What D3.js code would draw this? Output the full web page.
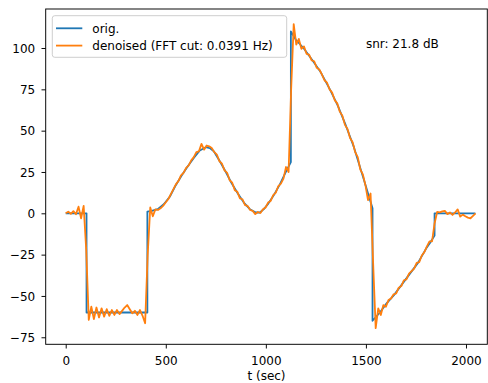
<!DOCTYPE html>
<html><head><meta charset="utf-8">
<script src="https://cdn.jsdelivr.net/npm/d3@7"></script>
<style>
html,body{margin:0;padding:0;background:#fff;}
svg{display:block;font-family:"DejaVu Sans",sans-serif;}
</style></head>
<body><svg id="c" width="488" height="383"></svg>
<script>
// ---- data ----
const xTicks = [0, 500, 1000, 1500, 2000];
const yTicks = [-75, -50, -25, 0, 25, 50, 75, 100];
const seriesNames = ["orig.", "denoised (FFT cut: 0.0391 Hz)"];
const snrLabel = "snr: 21.8 dB";
const xLabel = "t (sec)";

// original signal (breakpoints, t in sec)
const origT = [0, 104, 104, 408, 408, 430, 460, 490, 520, 550, 580, 610, 640, 670, 700, 720, 740, 770, 800, 830, 860, 890, 920, 950, 970, 990, 1010, 1040, 1070, 1100, 1125, 1125, 1150, 1188, 1230, 1271, 1320, 1360, 1400, 1440, 1488, 1533, 1533, 1570, 1600, 1640, 1680, 1720, 1760, 1800, 1820, 1843, 1843, 2047];
const origV = [0, 0, -60, -60, 1, 1.5, 2.5, 5.5, 10, 17, 23, 28.5, 33.5, 38, 40, 39.5, 37.5, 31.5, 25, 18, 12, 6.5, 2.5, 0.5, 0.5, 2.5, 5.5, 11, 17.5, 25, 31, 110, 105, 100, 93, 86, 75, 65, 53, 40, 21, 3, -65, -60, -55, -49.5, -43, -36.5, -30, -21.5, -18, -13.5, 0, 0];

// denoised signal, sampled every 12.8 sec
const denStep = 12.8;
const denV = [
  0, 1.0, -0.3, 1.3, -0.6, 4.0, -3.0, 4.5, -22, -64.5,
  -56.5, -64, -57, -63, -57.5, -62.5, -58, -62, -58.5, -61.5,
  -58.5, -61, -59, -57, -55.5, -58, -60.5, -59, -61.5, -58.5,
  -62, -66.5, -25, 3.5, -1.8, 2.4, 2.0, 3.0, 4.5, 6.5,
  8.5, 11.5, 14.5, 17.5, 19.5, 23, 24.5, 27.5, 29, 32,
  34, 37, 37.5, 42, 38.5, 41, 40.5, 39.5, 37, 35.5,
  31.5, 30, 26, 24.5, 20, 18.5, 14, 13, 9, 8.5,
  5, 4.5, 2, 1.5, -0.5, 0.8, 0.2, 2.5, 3.5, 6.5,
  7.5, 11, 12.5, 16.5, 18, 21, 28, 25, 75, 114.5,
  102, 105.5, 99.5, 101, 96.5, 96, 92.5, 92, 88, 87,
  84, 80.5, 79, 75, 73, 68.5, 66.5, 61.5, 59, 53.5,
  51, 45.5, 43, 37, 34, 26.5, 23.5, 17, 8, 12,
  -30, -69.5, -57.5, -61.5, -55.5, -56.5, -52.5, -51.5, -49, -48.5,
  -45, -44, -40.5, -40, -36.5, -35, -33.5, -30, -29.5, -25.5,
  -23.5, -20, -17, -17, -6, 0.8, 0.6, 1.2, 1.5, -0.5,
  0.5, -1.0, 0.5, 2.4, -2.0, -0.8, -1.8, -2.6, -3.0, -1.5,
  0
];

// ---- layout ----
const W = 488, H = 383;
const L = 45.7, R = 487.3, T = 9, B = 344.3;
const svg = d3.select("#c");
const x = d3.scaleLinear().domain([-100, 2106.5]).range([L, R]);
const y = d3.scaleLinear().domain([-79.25, 123.6]).range([B, T]);

const orig = origT.map((t, i) => [t, origV[i]]);
const den = denV.map((v, i) => [i * denStep, v]);

svg.append("defs").append("clipPath").attr("id", "clip")
  .append("rect").attr("x", L).attr("y", T).attr("width", R - L).attr("height", B - T);

const line = d3.line().x(d => x(d[0])).y(d => y(d[1]));
const g = svg.append("g").attr("clip-path", "url(#clip)");
g.append("path").datum(orig).attr("d", line).attr("fill", "none")
  .attr("stroke", "#1f77b4").attr("stroke-width", 1.8).attr("stroke-linejoin", "round");
g.append("path").datum(den).attr("d", line).attr("fill", "none")
  .attr("stroke", "#ff7f0e").attr("stroke-width", 1.8).attr("stroke-linejoin", "round");

// axes
const fs = 12;
const xa = svg.append("g").attr("transform", `translate(0,${B})`)
  .call(d3.axisBottom(x).tickValues(xTicks).tickSizeOuter(0).tickSize(4.2).tickFormat(d3.format("d")));
xa.select(".domain").remove();
xa.selectAll("line").attr("stroke", "#000").attr("stroke-width", 0.96);
xa.selectAll("text").attr("y", 12).attr("dy", "0.71em").attr("font-size", fs)
  .attr("font-family", "DejaVu Sans").attr("fill", "#000");

const minus = s => s.replace("-", "\u2212");
const ya = svg.append("g").attr("transform", `translate(${L},0)`)
  .call(d3.axisLeft(y).tickValues(yTicks).tickSizeOuter(0).tickSize(4.2).tickFormat(d => minus(String(d))));
ya.select(".domain").remove();
ya.selectAll("line").attr("stroke", "#000").attr("stroke-width", 0.96);
ya.selectAll("text").attr("x", -10.5).attr("dy", "0.34em").attr("font-size", fs)
  .attr("font-family", "DejaVu Sans").attr("fill", "#000");

// frame
svg.append("rect").attr("x", L).attr("y", T).attr("width", R - L).attr("height", B - T)
  .attr("fill", "none").attr("stroke", "#000").attr("stroke-width", 0.96);

// x label
svg.append("text").attr("x", (L + R) / 2).attr("y", 380).attr("text-anchor", "middle")
  .attr("font-size", fs).attr("fill", "#000").text(xLabel);

// snr annotation at data (1500, 100)
svg.append("text").attr("x", x(1500)).attr("y", y(100)).attr("font-size", fs)
  .attr("fill", "#000").text(snrLabel);

// legend
const lg = svg.append("g");
lg.append("rect").attr("x", 52.3).attr("y", 15.7).attr("width", 234.4).attr("height", 41.6)
  .attr("rx", 2.5).attr("fill", "#fff").attr("fill-opacity", 0.8)
  .attr("stroke", "#cccccc").attr("stroke-width", 0.96);
const colors = ["#1f77b4", "#ff7f0e"];
const rowsY = [28.3, 45.6];
seriesNames.forEach((n, i) => {
  lg.append("line").attr("x1", 56).attr("x2", 82.3).attr("y1", rowsY[i]).attr("y2", rowsY[i])
    .attr("stroke", colors[i]).attr("stroke-width", 1.8);
  lg.append("text").attr("x", 92.3).attr("y", rowsY[i]).attr("dy", "0.36em")
    .attr("font-size", fs).attr("fill", "#000").text(n);
});
</script></body></html>
